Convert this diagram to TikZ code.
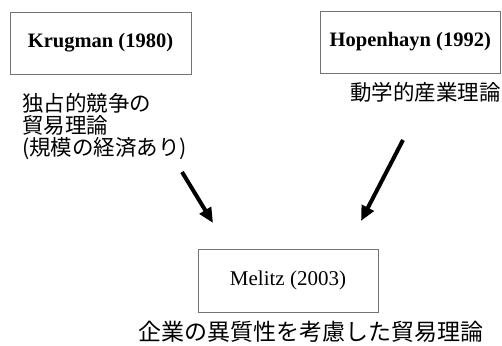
\documentclass[tikz,border=0pt]{standalone}
\usepackage{fontspec}
\setmainfont{Liberation Serif}
\newfontfamily\jpfont{Noto Sans CJK JP}
\usetikzlibrary{arrows.meta}
\begin{document}
\begin{tikzpicture}[x=1pt,y=-1pt,
  paperbox/.style={draw=black!55,line width=0.8pt,inner sep=0pt,minimum width=181pt,minimum height=62pt},
  toplabel/.style={font=\fontsize{20.5}{22}\selectfont\bfseries},
  jptext/.style={font=\fontsize{21.5}{22}\jpfont,inner sep=0pt,anchor=base west},
  bigarrow/.style={line width=4pt,-{Triangle[length=15pt,width=13pt]}}]
\useasboundingbox (0,0) rectangle (502,345);
\node[paperbox,toplabel] (krugman) at (100.5,43) {Krugman (1980)};
\node[paperbox,toplabel,minimum width=180.5pt] (hopen) at (410.25,42) {Hopenhayn (1992)};
\node[paperbox,minimum width=180pt,minimum height=63pt,font=\fontsize{21}{22}\selectfont] (melitz) at (288,280.5) {Melitz (2003)};
\node[jptext] (k1) at (22,111) {独占的競争の};
\node[jptext] (k2) at (22,133) {貿易理論};
\node[jptext] (k3) at (22,155) {(規模の経済あり)};
\node[jptext] (h1) at (350,100) {動学的産業理論};
\node[jptext,font=\fontsize{23}{24}\jpfont] (m1) at (138,340) {企業の異質性を考慮した貿易理論};
\coordinate (la) at (182,172);
\coordinate (lb) at (213,223);
\coordinate (ra) at (403,140);
\coordinate (rb) at (361,221);
\draw[bigarrow] (la) -- (lb);
\draw[bigarrow] (ra) -- (rb);
\end{tikzpicture}
\end{document}
